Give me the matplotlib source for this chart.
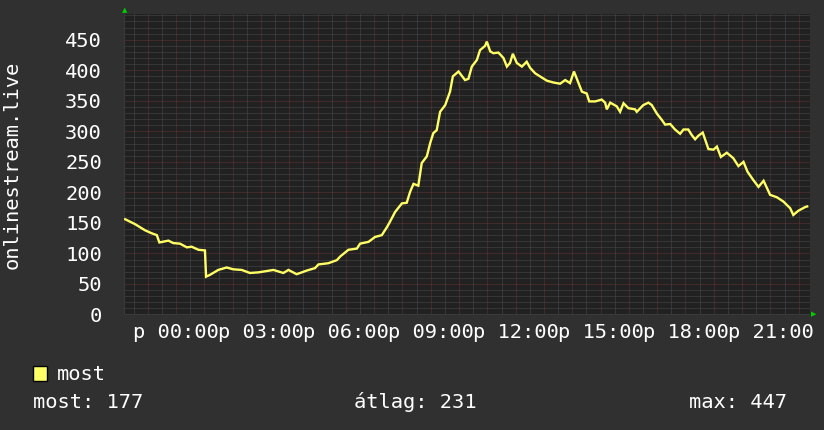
import matplotlib
matplotlib.use("Agg")
import matplotlib.pyplot as plt
from matplotlib.ticker import MultipleLocator
import numpy as np

# hours relative to midnight, listeners online
hours = [-1.80, -1.45, -1.10, -0.86, -0.68, -0.59, -0.27, -0.10, 0.14, 0.38,
         0.55, 0.79, 1.02, 1.06, 1.20, 1.49, 1.79, 2.02, 2.32, 2.61,
         2.91, 3.44, 3.79, 3.97, 4.26, 4.62, 4.91, 5.03, 5.38, 5.68,
         5.80, 6.09, 6.39, 6.50, 6.80, 7.03, 7.27, 7.45, 7.56, 7.74,
         7.98, 8.15, 8.27, 8.39, 8.56, 8.68, 8.86, 8.98, 9.09, 9.21,
         9.33, 9.51, 9.68, 9.78, 9.98, 10.21, 10.33, 10.45, 10.63, 10.74,
         10.92, 10.98, 11.10, 11.21, 11.39, 11.57, 11.69, 11.80, 11.90, 12.04,
         12.22, 12.39, 12.51, 12.69, 12.86, 13.10, 13.33, 13.57, 13.75, 13.92,
         14.06, 14.22, 14.34, 14.51, 14.60, 14.81, 15.04, 15.16, 15.22, 15.34,
         15.57, 15.69, 15.81, 15.98, 16.22, 16.28, 16.51, 16.69, 16.81, 16.99,
         17.16, 17.28, 17.46, 17.63, 17.81, 17.93, 18.10, 18.22, 18.34, 18.46,
         18.61, 18.81, 18.99, 19.11, 19.25, 19.46, 19.69, 19.87, 20.05, 20.19,
         20.40, 20.58, 20.76, 20.99, 21.23, 21.46, 21.70, 21.81, 21.99, 22.23,
         22.30]
values = [156, 148, 138, 133, 130, 118, 121, 117, 116, 110,
          111, 106, 105, 62, 65, 73, 77, 74, 73, 68,
          69, 73, 68, 73, 66, 72, 76, 82, 84, 89,
          95, 106, 108, 116, 119, 127, 130, 143, 152, 168,
          182, 183, 201, 214, 211, 248, 259, 281, 297, 302,
          332, 343, 365, 390, 398, 384, 386, 406, 417, 433,
          440, 447, 431, 428, 429, 420, 406, 412, 427, 412,
          406, 414, 404, 395, 390, 383, 380, 378, 384, 379,
          398, 379, 365, 362, 349, 349, 352, 347, 336, 347,
          341, 332, 346, 338, 336, 332, 343, 347, 343, 329,
          319, 311, 312, 303, 296, 303, 303, 294, 287, 293,
          298, 271, 270, 275, 258, 265, 256, 243, 250, 234,
          220, 209, 219, 196, 192, 185, 174, 163, 170, 176,
          177]

tick_hours = [0, 3, 6, 9, 12, 15, 18, 21]
tick_labels = ["p %02d:00" % h for h in tick_hours]
y_ticks = [0, 50, 100, 150, 200, 250, 300, 350, 400, 450]

series_name = "most"
stats = [("most", 177), ("átlag", 231), ("max", 447)]

BG = "#303030"
PLOT_BG = "#212121"
LINE = "#ffff66"
MINOR = "#4c4c4c"
MAJOR = "#663434"
FONT = "DejaVu Sans Mono"
FS = 14.7

W, H = 824, 430
fig = plt.figure(figsize=(W / 100, H / 100), dpi=100, facecolor=BG)
left, right, top, bottom = 124, 810, 13.5, 314.5
ax = fig.add_axes([left / W, 1 - bottom / H, (right - left) / W, (bottom - top) / H])
ax.set_facecolor(PLOT_BG)

ax.set_xlim(-1.84, 22.40)
ax.set_ylim(0, 493)

ax.set_xticks(tick_hours)
ax.set_xticklabels(tick_labels)
ax.set_yticks(y_ticks)

# grid: grey every 30 min / 10 units, red every hour / 50 units
for x in np.arange(-1.5, 22.5, 0.5):
    col = MAJOR if x == int(x) else MINOR
    ax.axvline(x, color=col, lw=0.72, ls=(0, (1, 1)), zorder=1, snap=True)
for y in range(10, 493, 10):
    col = MAJOR if y % 50 == 0 else MINOR
    ax.axhline(y, color=col, lw=0.72, ls=(0, (1, 1)), zorder=1, snap=True)

ax.plot(hours, values, color=LINE, lw=1.7, zorder=3, solid_joinstyle="miter")

for s in ax.spines.values():
    s.set_visible(False)
ax.axhline(0, color="#3a3a3a", lw=1.5, zorder=2)
ax.axvline(-1.84, color="#3a3a3a", lw=1.5, zorder=2)

ax.tick_params(which="both", length=0, colors="white", labelsize=FS)
ax.tick_params(axis="x", pad=6)
ax.tick_params(axis="y", pad=16)
for lab in ax.get_xticklabels() + ax.get_yticklabels():
    lab.set_fontfamily(FONT)

# little green arrows at the axis ends
fig.text(125 / W, 1 - 10 / H, "▲", color="#00cc00", fontsize=5, ha="center", va="center")
fig.text(814 / W, 1 - 314 / H, "▶", color="#00cc00", fontsize=5, ha="center", va="center")

fig.text(12 / W, 1 - 165 / H, "onlinestream.live", rotation=90, color="white",
         fontsize=FS, family=FONT, ha="center", va="center")

# legend
fig.patches.append(plt.Rectangle((33 / W, 1 - 381 / H), 14 / W, 15 / H,
                                 transform=fig.transFigure, facecolor=LINE,
                                 edgecolor="black", lw=1))
fig.text(57 / W, 1 - 374 / H, series_name, color="white", fontsize=FS,
         family=FONT, ha="left", va="center")
stat_x = [33, 354, 689]
for (name, val), sx in zip(stats, stat_x):
    fig.text(sx / W, 1 - 402 / H, "%s: %d" % (name, val), color="white",
             fontsize=FS, family=FONT, ha="left", va="center")

fig.savefig("out.png", dpi=100, facecolor=BG)
